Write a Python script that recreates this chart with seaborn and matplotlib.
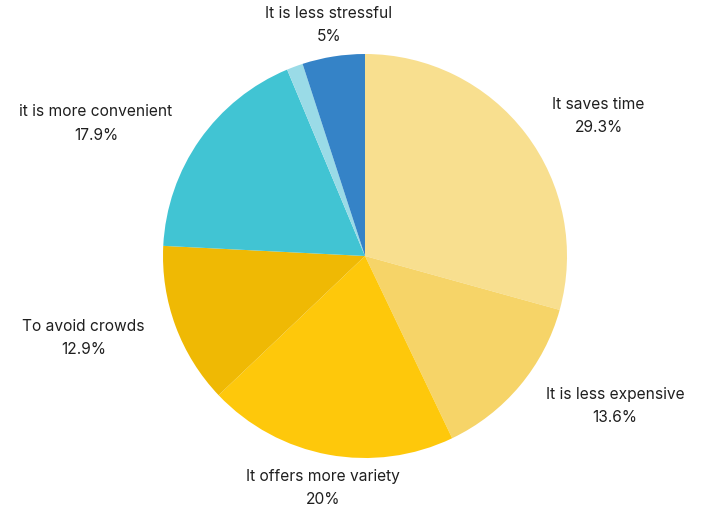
import numpy as np
import matplotlib
matplotlib.use("Agg")
import matplotlib.pyplot as plt
import seaborn as sns

# Survey answers: reasons for shopping online
reasons = [
    "It saves time",
    "It is less expensive",
    "It offers more variety",
    "To avoid crowds",
    "it is more convenient",
    "",
    "It is less stressful",
]
shares = [29.3, 13.6, 20.0, 12.9, 17.9, 1.3, 5.0]
share_labels = ["29.3%", "13.6%", "20%", "12.9%", "17.9%", "", "5%"]
slice_colors = ["#F8DF8F", "#F6D468", "#FEC80B", "#EFB904",
                "#41C4D3", "#9ADBE7", "#3583C7"]

sns.set_theme(style="white")
plt.rcParams["font.family"] = ["Inter", "DejaVu Sans"]

W, H = 709, 510
fig = plt.figure(figsize=(W / 100, H / 100), dpi=100)
ax = fig.add_axes([0, 0, 1, 1])

cx, cy, r = 365, H - 257, 202
wedges, _ = ax.pie(
    shares,
    colors=sns.color_palette(slice_colors),
    startangle=90,
    counterclock=False,
    center=(cx, cy),
    radius=r,
    wedgeprops=dict(linewidth=0),
    frame=True,
)
ax.set_xlim(0, W)
ax.set_ylim(0, H)
ax.set_aspect("equal")
ax.axis("off")

# Labels sit just outside each slice, anchored on the slice's mid angle
for w, name, pct in zip(wedges, reasons, share_labels):
    if not name:
        continue
    mid = np.deg2rad((w.theta1 + w.theta2) / 2)
    c, s = np.cos(mid), np.sin(mid)
    lx = cx + 1.15 * r * c
    ly = cy + 1.15 * r * s
    if abs(c) < 0.35:
        ha = "center"
        ly += 2.5 * np.sign(s)
    elif c > 0:
        ha = "left"
        lx += 2.5
    else:
        ha = "right"
        lx -= 2.5
    ax.text(lx, ly, f"{name}\n{pct}", ha=ha, va="center",
            multialignment="center", fontsize=11.2, color="#1f1f1f",
            linespacing=1.68)

fig.savefig("out.png", dpi=100, facecolor="white")
